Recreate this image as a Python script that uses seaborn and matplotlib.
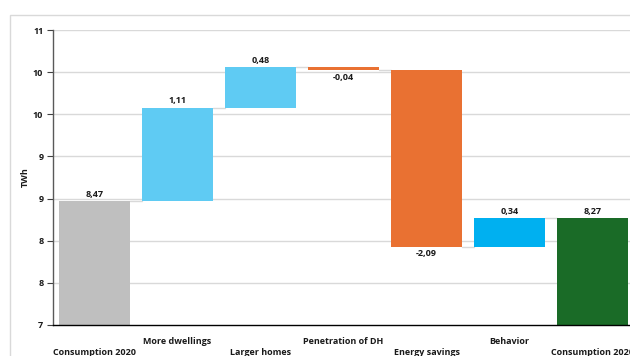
import math
import matplotlib
matplotlib.use("Agg")
import matplotlib.pyplot as plt
from matplotlib.patches import Rectangle
from matplotlib.ticker import FixedLocator, FuncFormatter
import seaborn as sns

categories = ["Consumption 2020", "More dwellings", "Larger homes",
              "Penetration of DH", "Energy savings", "Behavior", "Consumption 2020"]
changes = [8.47, 1.11, 0.48, -0.04, -2.09, 0.34, 8.27]
is_total = [True, False, False, False, False, False, True]
bar_colors = ["#BFBFBF", "#5FCBF3", "#5FCBF3", "#E97132", "#E97132", "#00B0F0", "#1A6B27"]

# waterfall geometry: bottoms and heights from running totals
bottoms, heights, levels = [], [], []
running = 0.0
for v, tot in zip(changes, is_total):
    if tot:
        bottoms.append(0.0)
        heights.append(v)
        running = v
    else:
        start = running
        running = start + v
        bottoms.append(min(start, running))
        heights.append(abs(v))
    levels.append(running)

sns.set_theme(style="white")
plt.rcParams["font.family"] = ["Open Sans", "DejaVu Sans"]
FS = 6.5

fig = plt.figure(figsize=(6.3, 3.56), dpi=100)
ax = fig.add_axes([53 / 630, 1 - 325 / 356, (634 - 53) / 630, (325 - 30) / 356])

# light outer frame of the chart area
fig.patches.append(Rectangle((10 / 630, -0.2), 1.5, 1.2 - 15 / 356, transform=fig.transFigure,
                             fill=False, edgecolor="#D9D9D9", linewidth=1.0, zorder=0))

sns.barplot(x=list(range(len(categories))), y=heights, bottom=bottoms,
            color="#BFBFBF", width=0.86, ax=ax, zorder=3, saturation=1)
for p, c in zip(ax.patches, bar_colors):
    p.set_facecolor(c)
    p.set_edgecolor("none")

ax.set_ylim(7, 10.5)
ax.set_xlim(-0.5, len(categories) - 0.5)

yt = [7 + 0.5 * i for i in range(8)]
ax.yaxis.set_major_locator(FixedLocator(yt))
ax.yaxis.set_major_formatter(FuncFormatter(lambda v, _: str(int(math.floor(v + 0.5)))))
for y in yt[1:]:
    ax.axhline(y, color="#D9D9D9", linewidth=1.0, zorder=1)

# connectors between consecutive bars
half = 0.43
for i in range(len(categories) - 1):
    ax.plot([i + half, i + 1 - half], [levels[i], levels[i]], color="#D9D9D9",
            linewidth=1.0, zorder=2)

# value labels
for i, (v, tot) in enumerate(zip(changes, is_total)):
    txt = f"{v:.2f}".replace(".", ",")
    if v >= 0:
        ax.annotate(txt, (i, bottoms[i] + heights[i]), xytext=(0, 1.5), textcoords="offset points",
                    ha="center", va="bottom", fontsize=FS, fontweight="bold", color="#1a1a1a", zorder=5)
    else:
        ax.annotate(txt, (i, bottoms[i]), xytext=(0, -1.5), textcoords="offset points",
                    ha="center", va="top", fontsize=FS, fontweight="bold", color="#1a1a1a", zorder=5)

# category labels alternate between two rows
labels = [("\n" + c) if i % 2 == 0 else c for i, c in enumerate(categories)]
ax.set_xticks(range(len(categories)))
ax.set_xticklabels(labels, fontsize=FS, fontweight="bold", color="#1a1a1a", linespacing=1.25)
ax.set_xticks([i + 0.5 for i in range(len(categories) - 1)], minor=True)
ax.tick_params(axis="x", which="major", length=0, pad=9)
ax.tick_params(axis="x", which="minor", length=4, width=0.8, color="#404040", direction="out")
ax.tick_params(axis="y", length=4, width=0.8, color="#404040", direction="out", pad=3,
               labelsize=FS, left=True)
for t in ax.get_yticklabels():
    t.set_fontweight("bold")
    t.set_color("#1a1a1a")

ax.set_ylabel("TWh", fontsize=FS, fontweight="bold", color="#1a1a1a", labelpad=2)
ax.set_xlabel("")

for s in ["top", "right"]:
    ax.spines[s].set_visible(False)
ax.spines["left"].set_color("#595959")
ax.spines["left"].set_linewidth(1.0)
ax.spines["bottom"].set_color("#000000")
ax.spines["bottom"].set_linewidth(1.0)
ax.spines["bottom"].set_zorder(4)

fig.savefig("out.png", dpi=100, facecolor="white")
